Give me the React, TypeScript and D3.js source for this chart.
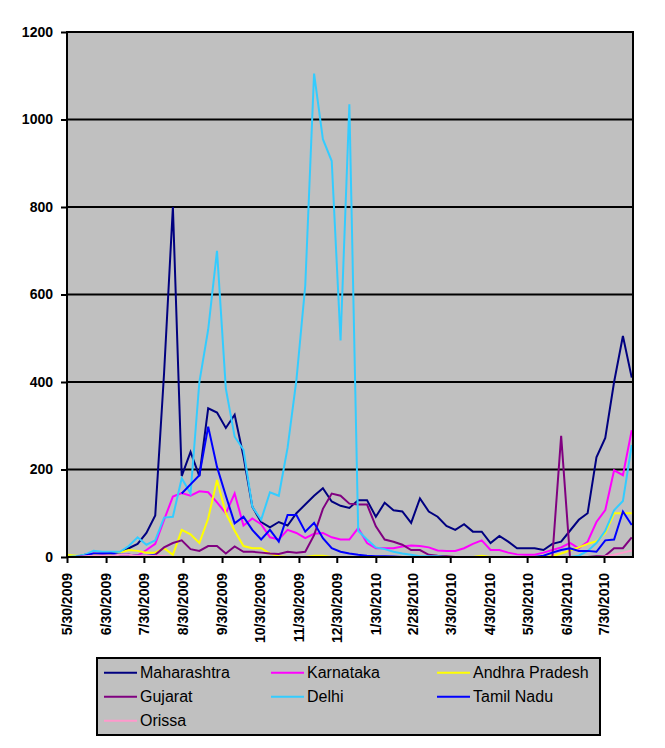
import React, { useEffect, useRef } from 'react';
import * as d3 from 'd3';

// weekly counts, first week 5/30/2009
const startDate = '2009-05-30';
const endDate = '2010-08-22';

const tickLabels = [
    '5/30/2009', '6/30/2009', '7/30/2009', '8/30/2009', '9/30/2009', '10/30/2009',
    '11/30/2009', '12/30/2009', '1/30/2010', '2/28/2010', '3/30/2010', '4/30/2010',
    '5/30/2010', '6/30/2010', '7/30/2010',
];

const yTicks = [0, 200, 400, 600, 800, 1000, 1200];

const states = ['Maharashtra', 'Karnataka', 'Andhra Pradesh', 'Gujarat', 'Delhi', 'Tamil Nadu', 'Orissa'];
const colors = ['#000080', '#FF00FF', '#FFFF00', '#800080', '#33CCFF', '#0000FF', '#FF99CC'];

const maharashtra = [
    0, 0, 5, 5, 5, 8, 10, 20, 30, 55, 95, 420, 800, 185, 240, 185, 340, 330, 295, 325,
    230, 115, 80, 68, 80, 72, 100, 120, 140, 157, 127, 117, 112, 130, 130, 92, 124, 107, 104, 78,
    134, 104, 92, 71, 62, 75, 58, 58, 32, 48, 35, 20, 20, 20, 16, 30, 35, 60, 85, 100,
    228, 272, 400, 505, 410,
];
const karnataka = [
    0, 0, 3, 8, 5, 8, 5, 5, 3, 16, 30, 85, 138, 146, 140, 150, 148, 125, 100, 145,
    72, 88, 75, 45, 40, 62, 55, 43, 53, 55, 45, 40, 40, 66, 32, 20, 20, 20, 24, 26,
    25, 22, 15, 14, 14, 20, 30, 38, 16, 16, 10, 6, 5, 5, 10, 16, 22, 32, 20, 35,
    80, 107, 198, 187, 290,
];
const andhraPradesh = [
    5, 3, 3, 5, 3, 5, 10, 16, 14, 10, 10, 20, 5, 62, 52, 32, 88, 176, 100, 60,
    25, 20, 20, 8, 2, 0, 0, 0, 3, 3, 0, 0, 0, 0, 0, 0, 0, 0, 0, 0,
    0, 0, 0, 0, 0, 0, 0, 3, 0, 0, 0, 0, 0, 0, 0, 2, 8, 15, 22, 30,
    36, 55, 100, 100, 100,
];
const gujarat = [
    0, 0, 0, 2, 3, 2, 3, 5, 3, 0, 5, 22, 32, 38, 18, 14, 25, 25, 8, 24,
    12, 12, 10, 8, 7, 12, 10, 12, 50, 110, 145, 140, 122, 120, 120, 70, 40, 35, 28, 16,
    16, 5, 3, 2, 0, 0, 0, 0, 0, 0, 0, 0, 0, 0, 0, 0, 277, 0, 0, 0,
    2, 3, 20, 20, 45,
];
const delhi = [
    0, 2, 5, 14, 12, 12, 12, 25, 45, 28, 38, 90, 92, 180, 145, 400, 520, 700, 385, 275,
    245, 115, 85, 148, 140, 250, 405, 620, 1105, 955, 905, 495, 1035, 60, 40, 22, 18, 12, 8, 5,
    2, 2, 2, 0, 0, 0, 0, 0, 0, 0, 0, 0, 0, 0, 0, 0, 0, 0, 3, 14,
    32, 60, 107, 128, 256,
];
const tamilNadu = [
    0, 0, 3, 8, 8, 8, 5, 5, 3, 3, 5, null, null, 145, 166, 187, 298, 206, 140, 77,
    92, 62, 40, 62, 35, 96, 96, 58, 78, 43, 20, 12, 8, 5, 3, 2, 2, 1, 0, 0,
    0, 0, 0, 0, 0, 0, 0, 0, 0, 0, 0, 0, 0, 0, 3, 10, 16, 20, 14, 14,
    12, 38, 40, 104, 73,
];
const orissa = [
    0, 0, 2, 3, 3, 3, 5, 5, 3, 3, 3, 2, 0, 0, 0, 0, 0, 0, 0, 0,
    0, 0, 0, 0, 0, 0, 0, 0, 0, 0, 0, 0, 0, 0, 0, 0, 0, 0, 0, 0,
    0, 0, 0, 0, 0, 0, 0, 0, 0, 0, 0, 0, 0, 0, 0, 0, 0, 0, 0, 0,
    0, 2, 5, 10, 15,
];

const series = [maharashtra, karnataka, andhraPradesh, gujarat, delhi, tamilNadu, orissa];

const W = 665;
const H = 748;
const margin = { top: 32, right: 32, bottom: 191, left: 67 };
const font = '"Liberation Sans", Arial, sans-serif';

export const App: React.FC = () => {
    const ref = useRef<SVGSVGElement>(null);

    useEffect(() => {
        document.body.style.margin = '0';
        drawChart();
        //eslint-disable-next-line
    }, []);

    const drawChart = () => {
        const svg = d3.select(ref.current);
        svg.selectAll('*').remove();

        const parse = d3.timeParse('%m/%d/%Y');
        const start = d3.timeParse('%Y-%m-%d')(startDate) as Date;
        const end = d3.timeParse('%Y-%m-%d')(endDate) as Date;
        const weeks = d3.timeDay.range(start, end, 7);
        const tickDates = tickLabels.map(t => parse(t) as Date);

        const x = d3.scaleTime().domain([start, end]).range([margin.left, W - margin.right]);
        const y = d3.scaleLinear().domain([0, 1200]).range([H - margin.bottom, margin.top]);

        const x0 = margin.left;
        const x1 = W - margin.right;
        const y0 = H - margin.bottom;

        svg.append('rect')
            .attr('x', x0).attr('y', margin.top)
            .attr('width', x1 - x0).attr('height', y0 - margin.top)
            .attr('fill', '#C0C0C0');

        // gridlines
        svg.append('g')
            .selectAll('line')
            .data(yTicks.slice(1))
            .enter()
            .append('line')
            .attr('x1', x0).attr('x2', x1)
            .attr('y1', d => y(d)).attr('y2', d => y(d))
            .attr('stroke', '#000').attr('stroke-width', 2);

        // series lines
        const line = d3.line<number | null>()
            .defined(d => d !== null)
            .x((_, i) => x(weeks[i]))
            .y(d => y(d as number));

        series.forEach((vals, k) => {
            svg.append('path')
                .datum(vals)
                .attr('d', line)
                .attr('fill', 'none')
                .attr('stroke', colors[k])
                .attr('stroke-width', 2);
        });

        // plot border
        svg.append('rect')
            .attr('x', x0).attr('y', margin.top)
            .attr('width', x1 - x0).attr('height', y0 - margin.top)
            .attr('fill', 'none')
            .attr('stroke', '#000').attr('stroke-width', 2);

        // y axis
        const yAxis = svg.append('g')
            .attr('transform', `translate(${x0},0)`)
            .call(d3.axisLeft(y).tickValues(yTicks).tickSize(6).tickPadding(8).tickFormat(d => `${d}`));
        yAxis.select('.domain').remove();
        yAxis.selectAll('line').attr('stroke', '#000').attr('stroke-width', 2);
        yAxis.selectAll('text')
            .attr('font-family', font).attr('font-size', 14).attr('font-weight', 'bold').attr('fill', '#000');

        // x axis
        const xAxis = svg.append('g')
            .attr('transform', `translate(0,${y0})`)
            .call(d3.axisBottom(x).tickValues(tickDates).tickSize(6).tickFormat((_, i) => tickLabels[i]));
        xAxis.select('.domain').remove();
        xAxis.selectAll('line').attr('stroke', '#000').attr('stroke-width', 2);
        xAxis.selectAll('text')
            .attr('font-family', font).attr('font-size', 14).attr('font-weight', 'bold').attr('fill', '#000')
            .attr('transform', 'rotate(-90)')
            .attr('text-anchor', 'end')
            .attr('x', -16).attr('y', 0).attr('dy', '0.35em');

        // legend
        const lg = svg.append('g');
        lg.append('rect')
            .attr('x', 97).attr('y', 658).attr('width', 503).attr('height', 77)
            .attr('fill', '#C0C0C0').attr('stroke', '#000').attr('stroke-width', 2);
        const colX = [104, 271, 437];
        const items = lg.selectAll('g.item')
            .data(states)
            .enter()
            .append('g')
            .attr('class', 'item')
            .attr('transform', (_, i) => `translate(${colX[i % 3]},${672.7 + Math.floor(i / 3) * 24})`);
        items.append('line')
            .attr('x1', 0).attr('x2', 33).attr('y1', 0).attr('y2', 0)
            .attr('stroke', (_, i) => colors[i]).attr('stroke-width', 2);
        items.append('text')
            .attr('x', 36).attr('y', 0).attr('dy', '0.36em')
            .attr('font-family', font).attr('font-size', 16).attr('fill', '#000')
            .text(d => d);
    };

    return <svg ref={ref} width={W} height={H} style={{ display: 'block', background: '#fff' }}></svg>;
};

export default App;
